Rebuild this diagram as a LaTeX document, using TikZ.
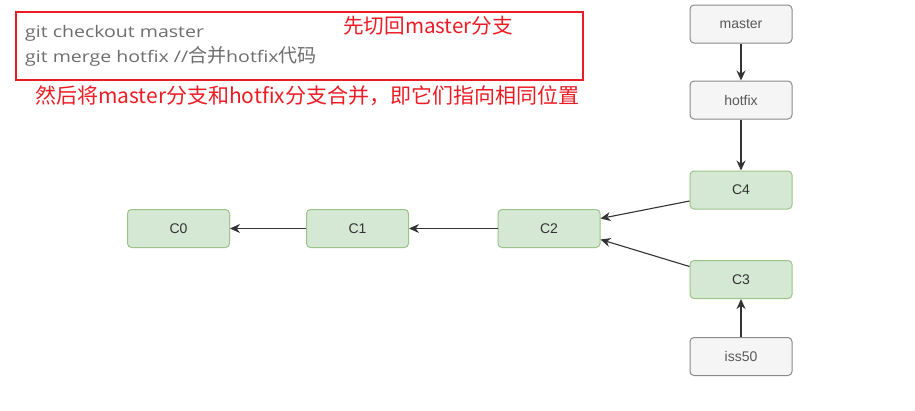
\documentclass[tikz,border=0pt]{standalone}
\usepackage{fontspec}
\setmainfont{Liberation Sans}
\newfontfamily\cjk{Noto Sans CJK SC}
\newfontfamily\latn[FakeStretch=1.22]{Open Sans}
\usetikzlibrary{arrows.meta}
\definecolor{gfill}{HTML}{D5E8D4}
\definecolor{gstroke}{HTML}{9CC48A}
\definecolor{pfill}{HTML}{F5F5F5}
\definecolor{pstroke}{HTML}{8A8A8A}
\definecolor{redtxt}{RGB}{236,28,36}
\definecolor{graytxt}{HTML}{6E6E6E}
\definecolor{edge}{HTML}{333333}
\tikzset{
  commit/.style={draw=gstroke, fill=gfill, rounded corners=4pt, minimum width=102pt, minimum height=38pt, line width=1pt, font=\fontsize{14}{16}\selectfont, text=black!80, inner sep=0pt},
  pointer/.style={draw=pstroke, fill=pfill, rounded corners=4pt, minimum width=102pt, minimum height=38pt, line width=1pt, font=\fontsize{14}{16}\selectfont, text=black!65, inner sep=0pt},
  link/.style={draw=edge, line width=1.1pt, -{Stealth[length=10pt,width=9pt]}},
  codetxt/.style={anchor=west, inner sep=0pt, text=graytxt, font=\latn\fontsize{16}{18}\selectfont},
  notetxt/.style={anchor=west, inner sep=0pt, text=redtxt, font=\cjk\fontsize{21}{23}\selectfont}
}
\begin{document}
\begin{tikzpicture}[x=1pt,y=-1pt]
\useasboundingbox (0,0) rectangle (915,410);
\fill[white] (0,0) rectangle (915,410);
% red box
\draw[redtxt, line width=2pt] (16,12) rectangle (583,80);
\node[codetxt] (l1) at (25,33) {git checkout master};
\node[codetxt] (l2) at (25,56) {git merge hotfix //{\cjk\fontsize{19}{18}\selectfont 合并}hotfix{\cjk\fontsize{19}{18}\selectfont 代码}};
\node[notetxt, font=\cjk\fontsize{20.6}{23}\selectfont] (n1) at (343,26) {先切回master分支};
\node[notetxt] (n2) at (35,96) {然后将master分支和hotfix分支合并，即它们指向相同位置};
% nodes
\node[pointer] (master) at (741,24) {master};
\node[pointer] (hotfix) at (741,100) {hotfix};
\node[commit] (c4) at (741,190) {C4};
\node[commit] (c3) at (741,279.5) {C3};
\node[pointer] (iss50) at (741,356.5) {iss50};
\node[commit] (c0) at (178.5,228.5) {C0};
\node[commit] (c1) at (357.5,228.5) {C1};
\node[commit] (c2) at (549,228.5) {C2};
% edges
\draw[link] (master) -- (hotfix);
\draw[link] (hotfix) -- (c4);
\draw[link] (iss50) -- (c3);
\draw[link] (c2) -- (c1);
\draw[link] (c1) -- (c0);
\draw[link] ([yshift=-11pt]c4.west) -- ([yshift=10pt]c2.east);
\draw[link] ([yshift=13pt]c3.west) -- ([yshift=-11pt]c2.east);
\end{tikzpicture}
\end{document}
